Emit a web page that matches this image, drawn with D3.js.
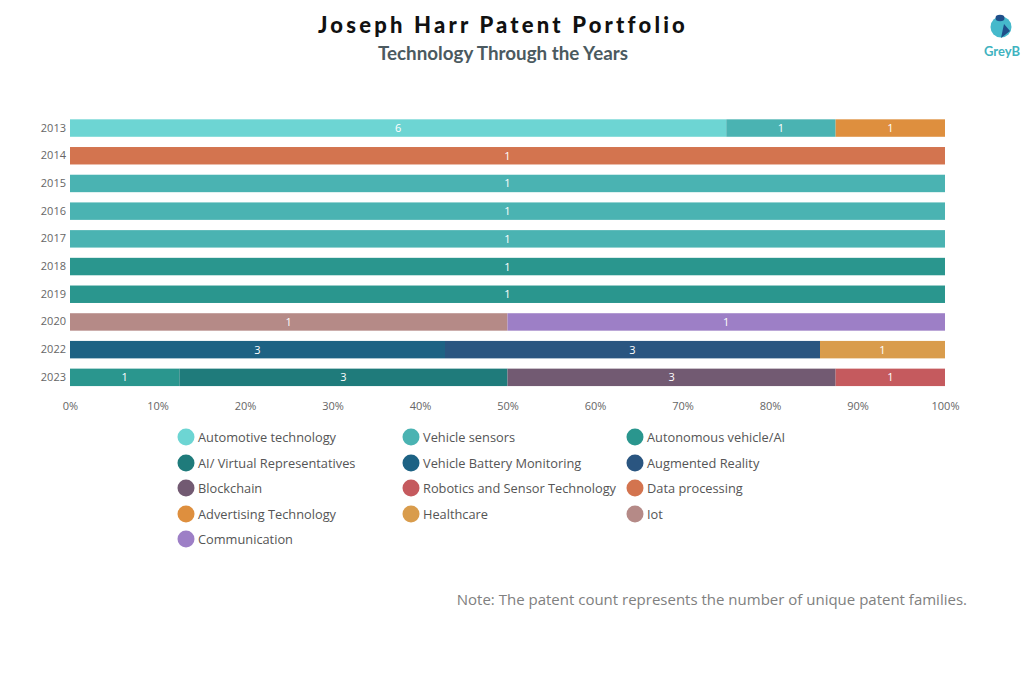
<!DOCTYPE html>
<html>
<head>
<meta charset="utf-8">
<script src="https://cdn.jsdelivr.net/npm/d3@7"></script>
<style>
  html, body { margin: 0; padding: 0; background: #ffffff; }
  svg { display: block; }
</style>
</head>
<body>
<svg id="chart" width="1024" height="674"></svg>
<script>
const years = ["2013","2014","2015","2016","2017","2018","2019","2020","2022","2023"];
const seriesNames = [
  "Automotive technology","Vehicle sensors","Autonomous vehicle/AI",
  "AI/ Virtual Representatives","Vehicle Battery Monitoring","Augmented Reality",
  "Blockchain","Robotics and Sensor Technology","Data processing",
  "Advertising Technology","Healthcare","Iot","Communication"
];
const seriesColors = [
  "#6dd5d3","#4ab3b2","#2a968e",
  "#1f7b7b","#1d6284","#2a5580",
  "#725a72","#c55a5e","#d3744f",
  "#de8f3e","#d99c4c","#b58a87","#9d7fc6"
];
// values per series, aligned with years
const automotiveTechnology   = [6,0,0,0,0,0,0,0,0,0];
const vehicleSensors         = [1,0,1,1,1,0,0,0,0,0];
const autonomousVehicleAI    = [0,0,0,0,0,1,1,0,0,1];
const aiVirtualReps          = [0,0,0,0,0,0,0,0,0,3];
const vehicleBattery         = [0,0,0,0,0,0,0,0,3,0];
const augmentedReality       = [0,0,0,0,0,0,0,0,3,0];
const blockchain             = [0,0,0,0,0,0,0,0,0,3];
const roboticsSensor         = [0,0,0,0,0,0,0,0,0,1];
const dataProcessing         = [0,1,0,0,0,0,0,0,0,0];
const advertisingTechnology  = [1,0,0,0,0,0,0,0,0,0];
const healthcare             = [0,0,0,0,0,0,0,0,1,0];
const iot                    = [0,0,0,0,0,0,0,1,0,0];
const communication          = [0,0,0,0,0,0,0,1,0,0];
const seriesValues = [automotiveTechnology, vehicleSensors, autonomousVehicleAI, aiVirtualReps,
  vehicleBattery, augmentedReality, blockchain, roboticsSensor, dataProcessing,
  advertisingTechnology, healthcare, iot, communication];
const tickValues = [0,0.1,0.2,0.3,0.4,0.5,0.6,0.7,0.8,0.9,1];

const titleText = "Joseph Harr Patent Portfolio";
const subtitleText = "Technology Through the Years";
const noteText = "Note: The patent count represents the number of unique patent families.";

const svg = d3.select("#chart");

// Build table
const table = years.map((y, i) => {
  const row = { year: y };
  seriesNames.forEach((s, j) => row[s] = seriesValues[j][i]);
  return row;
});
const totals = years.map((y, i) => d3.sum(seriesValues, v => v[i]));
const normTable = table.map((r, i) => {
  const o = { year: r.year };
  seriesNames.forEach(s => o[s] = r[s] / totals[i]);
  return o;
});
const stack = d3.stack().keys(seriesNames);
const stacked = stack(normTable);

const x = d3.scaleLinear().domain([0, 1]).range([70, 945]);
const y = d3.scaleBand().domain(years).range([114.2, 391.2]).paddingInner(0.37).paddingOuter(0.185);
const color = d3.scaleOrdinal().domain(seriesNames).range(seriesColors);

// Title
svg.append("text")
  .attr("x", 503).attr("y", 33)
  .attr("text-anchor", "middle")
  .attr("font-family", "Lato, sans-serif")
  .attr("font-weight", 900)
  .attr("font-size", 22)
  .attr("letter-spacing", 3.2)
  .attr("fill", "#111")
  .text(titleText);
svg.append("text")
  .attr("x", 503).attr("y", 60)
  .attr("text-anchor", "middle")
  .attr("font-family", "Lato, sans-serif")
  .attr("font-weight", 700)
  .attr("font-size", 18.8)
  .attr("fill", "#4b5a60")
  .text(subtitleText);

// Logo
const logo = svg.append("g");
logo.append("circle").attr("cx", 1001).attr("cy", 27).attr("r", 10.5).attr("fill", "#45b9cb");
logo.append("ellipse").attr("cx", 1000).attr("cy", 18).attr("rx", 4.5).attr("ry", 3.2).attr("fill", "#1f4f8a");
logo.append("path").attr("d", "M1004,24 L1010,31 L1001,38 Z").attr("fill", "#1f4f8a");
logo.append("text")
  .attr("x", 1002).attr("y", 56)
  .attr("text-anchor", "middle")
  .attr("font-family", "Lato, sans-serif")
  .attr("font-weight", 700)
  .attr("font-size", 13)
  .attr("fill", "#3fb3c0")
  .text("GreyB");

// Bars
const layers = svg.append("g").selectAll("g.layer")
  .data(stacked).enter().append("g")
  .attr("class", "layer")
  .attr("fill", d => color(d.key));

layers.selectAll("rect")
  .data(d => d.map(p => ({ p, key: d.key })))
  .enter().append("rect")
  .filter(d => d.p[1] - d.p[0] > 0)
  .attr("x", d => x(d.p[0]))
  .attr("y", d => y(d.p.data.year))
  .attr("width", d => x(d.p[1]) - x(d.p[0]))
  .attr("height", y.bandwidth());

// Labels
const labels = [];
stacked.forEach((layer, j) => {
  layer.forEach((p, i) => {
    const v = seriesValues[j][i];
    if (v > 0) labels.push({ x0: p[0], x1: p[1], year: years[i], v });
  });
});
svg.append("g").selectAll("text")
  .data(labels).enter().append("text")
  .attr("x", d => x((d.x0 + d.x1) / 2))
  .attr("y", d => y(d.year) + y.bandwidth() / 2 + 4)
  .attr("text-anchor", "middle")
  .attr("font-family", "'Open Sans', sans-serif")
  .attr("font-size", 11)
  .attr("fill", "#ffffff")
  .text(d => d.v);

// Y axis
const yAxis = svg.append("g")
  .attr("transform", "translate(70,0)")
  .call(d3.axisLeft(y).tickSize(0).tickPadding(4));
yAxis.select(".domain").remove();
yAxis.selectAll("text")
  .attr("font-family", "'Open Sans', sans-serif")
  .attr("font-size", 11)
  .attr("fill", "#666");

// X axis
const xAxis = svg.append("g")
  .attr("transform", "translate(0,398)")
  .call(d3.axisBottom(x).tickValues(tickValues).tickFormat(d3.format(".0%")).tickSize(0).tickPadding(4));
xAxis.select(".domain").remove();
xAxis.selectAll("text")
  .attr("font-family", "'Open Sans', sans-serif")
  .attr("font-size", 11)
  .attr("fill", "#666");

// Legend
const colX = [186, 411, 635];
const rowY = [437, 463, 488, 514, 539];
const legend = svg.append("g").selectAll("g")
  .data(seriesNames).enter().append("g")
  .attr("transform", (d, i) => `translate(${colX[i % 3]},${rowY[Math.floor(i / 3)]})`);
legend.append("circle").attr("r", 8.5).attr("fill", d => color(d));
legend.append("text")
  .attr("x", 12).attr("y", 4.5)
  .attr("font-family", "'Open Sans', sans-serif")
  .attr("font-size", 12.8)
  .attr("fill", "#555")
  .text(d => d);

// Note
svg.append("text")
  .attr("x", 967).attr("y", 605)
  .attr("text-anchor", "end")
  .attr("font-family", "'Open Sans', sans-serif")
  .attr("font-weight", 400)
  .attr("font-size", 15)
  .attr("fill", "#808080")
  .text(noteText);
</script>
</body>
</html>
